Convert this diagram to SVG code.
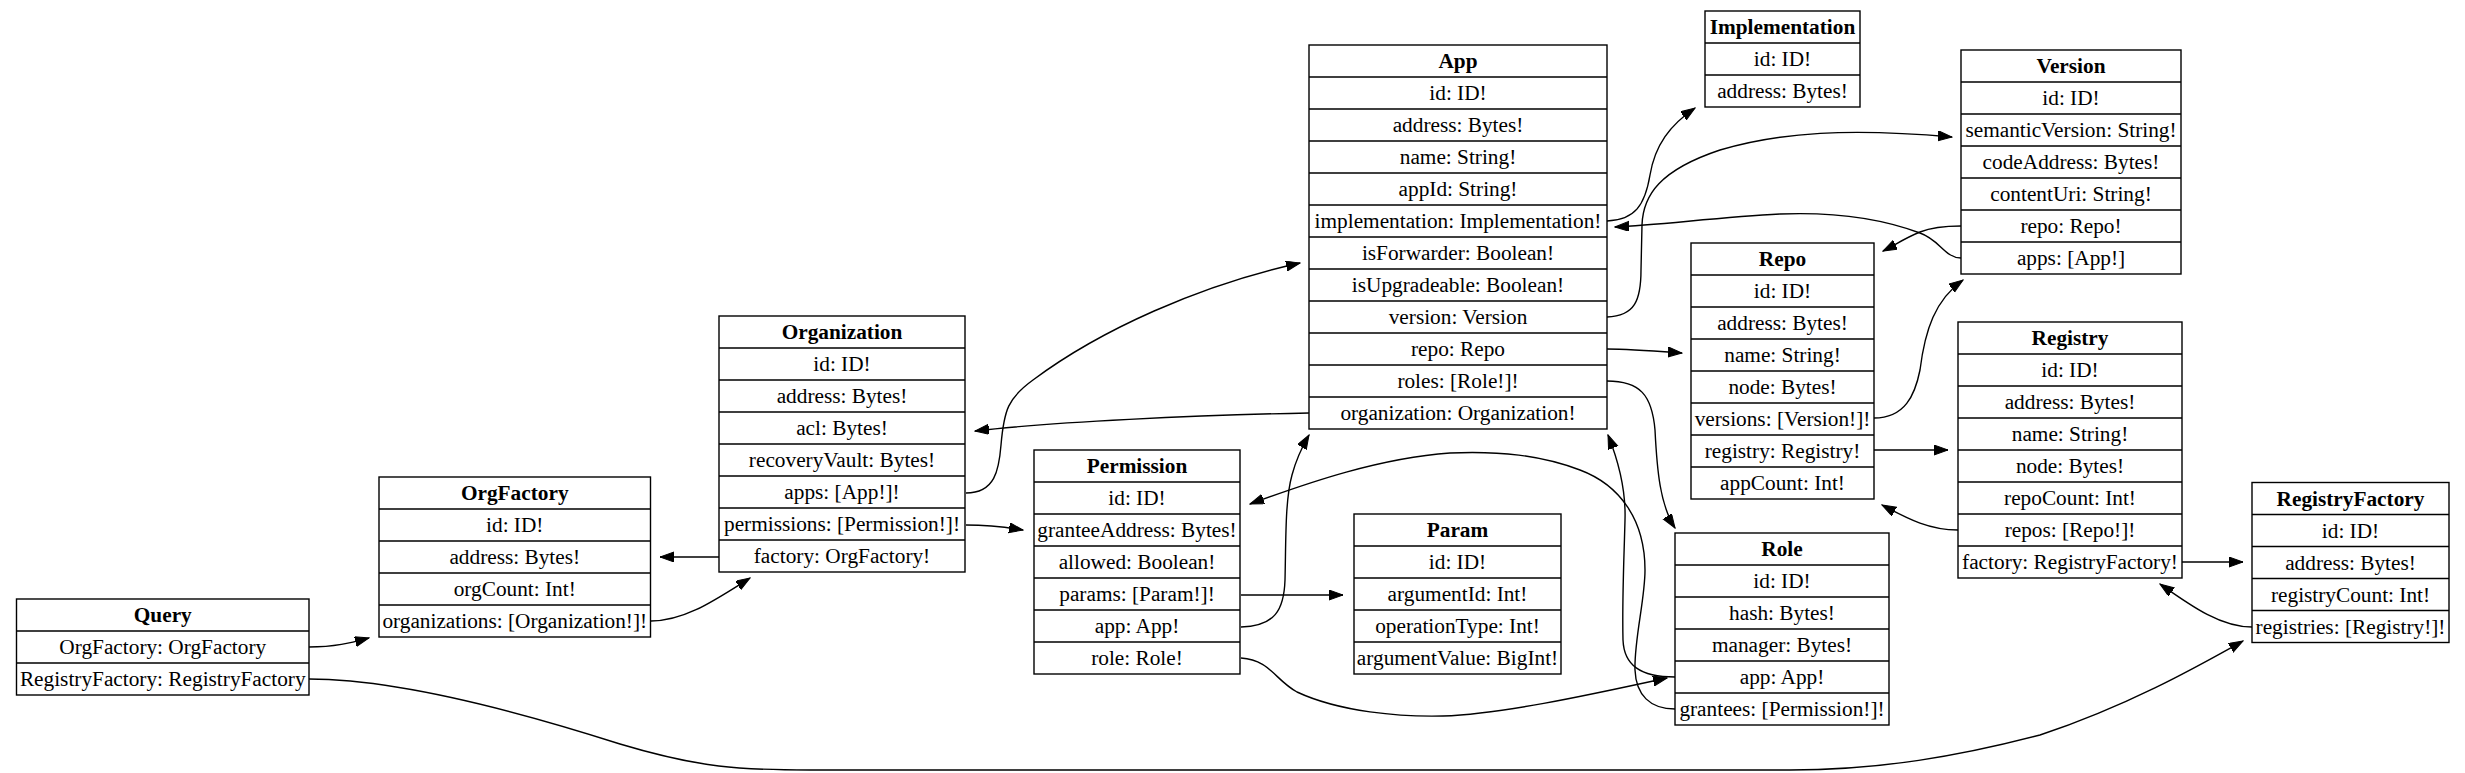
<svg xmlns="http://www.w3.org/2000/svg" width="2465" height="773" viewBox="0 0 2465 773">
<style>
.bg{fill:#fff}
.box{fill:none;stroke:#000;stroke-width:1.4}
.sep{stroke:#000;stroke-width:1.4}
text{font-family:"Liberation Serif","Times New Roman",serif;font-size:21.3px;text-anchor:middle;fill:#000}
.h{font-weight:bold}
.e{fill:none;stroke:#000;stroke-width:1.4;marker-end:url(#ah)}
</style>
<defs>
<marker id="ah" markerWidth="15" markerHeight="11" refX="14" refY="5" orient="auto" markerUnits="userSpaceOnUse"><path d="M0,0 L14,5 L0,10 z" fill="#000" stroke="#000" stroke-width="1"/></marker>
</defs>
<rect class="bg" x="0" y="0" width="2465" height="773"/>

<g id="Query">
<rect class="box" x="16.5" y="599" width="292.5" height="96"/>
<path class="sep" d="M16.5,631H309M16.5,663H309"/>
<text class="h" x="162.75" y="622">Query</text>
<text x="162.75" y="654">OrgFactory: OrgFactory</text>
<text x="162.75" y="686">RegistryFactory: RegistryFactory</text>
</g>

<g id="OrgFactory">
<rect class="box" x="379" y="477" width="271.5" height="160"/>
<path class="sep" d="M379,509H650.5M379,541H650.5M379,573H650.5M379,605H650.5"/>
<text class="h" x="514.75" y="500">OrgFactory</text>
<text x="514.75" y="532">id: ID!</text>
<text x="514.75" y="564">address: Bytes!</text>
<text x="514.75" y="596">orgCount: Int!</text>
<text x="514.75" y="628">organizations: [Organization!]!</text>
</g>

<g id="Organization">
<rect class="box" x="719" y="316" width="246" height="256"/>
<path class="sep" d="M719,348H965M719,380H965M719,412H965M719,444H965M719,476H965M719,508H965M719,540H965"/>
<text class="h" x="842" y="339">Organization</text>
<text x="842" y="371">id: ID!</text>
<text x="842" y="403">address: Bytes!</text>
<text x="842" y="435">acl: Bytes!</text>
<text x="842" y="467">recoveryVault: Bytes!</text>
<text x="842" y="499">apps: [App!]!</text>
<text x="842" y="531">permissions: [Permission!]!</text>
<text x="842" y="563">factory: OrgFactory!</text>
</g>

<g id="Permission">
<rect class="box" x="1034" y="450" width="206" height="224"/>
<path class="sep" d="M1034,482H1240M1034,514H1240M1034,546H1240M1034,578H1240M1034,610H1240M1034,642H1240"/>
<text class="h" x="1137" y="473">Permission</text>
<text x="1137" y="505">id: ID!</text>
<text x="1137" y="537">granteeAddress: Bytes!</text>
<text x="1137" y="569">allowed: Boolean!</text>
<text x="1137" y="601">params: [Param!]!</text>
<text x="1137" y="633">app: App!</text>
<text x="1137" y="665">role: Role!</text>
</g>

<g id="Param">
<rect class="box" x="1354" y="514" width="207" height="160"/>
<path class="sep" d="M1354,546H1561M1354,578H1561M1354,610H1561M1354,642H1561"/>
<text class="h" x="1457.5" y="537">Param</text>
<text x="1457.5" y="569">id: ID!</text>
<text x="1457.5" y="601">argumentId: Int!</text>
<text x="1457.5" y="633">operationType: Int!</text>
<text x="1457.5" y="665">argumentValue: BigInt!</text>
</g>

<g id="App">
<rect class="box" x="1309" y="45" width="298" height="384"/>
<path class="sep" d="M1309,77H1607M1309,109H1607M1309,141H1607M1309,173H1607M1309,205H1607M1309,237H1607M1309,269H1607M1309,301H1607M1309,333H1607M1309,365H1607M1309,397H1607"/>
<text class="h" x="1458" y="68">App</text>
<text x="1458" y="100">id: ID!</text>
<text x="1458" y="132">address: Bytes!</text>
<text x="1458" y="164">name: String!</text>
<text x="1458" y="196">appId: String!</text>
<text x="1458" y="228">implementation: Implementation!</text>
<text x="1458" y="260">isForwarder: Boolean!</text>
<text x="1458" y="292">isUpgradeable: Boolean!</text>
<text x="1458" y="324">version: Version</text>
<text x="1458" y="356">repo: Repo</text>
<text x="1458" y="388">roles: [Role!]!</text>
<text x="1458" y="420">organization: Organization!</text>
</g>

<g id="Implementation">
<rect class="box" x="1705" y="11" width="155" height="96"/>
<path class="sep" d="M1705,43H1860M1705,75H1860"/>
<text class="h" x="1782.5" y="34">Implementation</text>
<text x="1782.5" y="66">id: ID!</text>
<text x="1782.5" y="98">address: Bytes!</text>
</g>

<g id="Repo">
<rect class="box" x="1691" y="243" width="183" height="256"/>
<path class="sep" d="M1691,275H1874M1691,307H1874M1691,339H1874M1691,371H1874M1691,403H1874M1691,435H1874M1691,467H1874"/>
<text class="h" x="1782.5" y="266">Repo</text>
<text x="1782.5" y="298">id: ID!</text>
<text x="1782.5" y="330">address: Bytes!</text>
<text x="1782.5" y="362">name: String!</text>
<text x="1782.5" y="394">node: Bytes!</text>
<text x="1782.5" y="426">versions: [Version!]!</text>
<text x="1782.5" y="458">registry: Registry!</text>
<text x="1782.5" y="490">appCount: Int!</text>
</g>

<g id="Role">
<rect class="box" x="1675" y="533" width="214" height="192"/>
<path class="sep" d="M1675,565H1889M1675,597H1889M1675,629H1889M1675,661H1889M1675,693H1889"/>
<text class="h" x="1782" y="556">Role</text>
<text x="1782" y="588">id: ID!</text>
<text x="1782" y="620">hash: Bytes!</text>
<text x="1782" y="652">manager: Bytes!</text>
<text x="1782" y="684">app: App!</text>
<text x="1782" y="716">grantees: [Permission!]!</text>
</g>

<g id="Version">
<rect class="box" x="1961" y="50" width="220" height="224"/>
<path class="sep" d="M1961,82H2181M1961,114H2181M1961,146H2181M1961,178H2181M1961,210H2181M1961,242H2181"/>
<text class="h" x="2071" y="73">Version</text>
<text x="2071" y="105">id: ID!</text>
<text x="2071" y="137">semanticVersion: String!</text>
<text x="2071" y="169">codeAddress: Bytes!</text>
<text x="2071" y="201">contentUri: String!</text>
<text x="2071" y="233">repo: Repo!</text>
<text x="2071" y="265">apps: [App!]</text>
</g>

<g id="Registry">
<rect class="box" x="1958" y="322" width="224" height="256"/>
<path class="sep" d="M1958,354H2182M1958,386H2182M1958,418H2182M1958,450H2182M1958,482H2182M1958,514H2182M1958,546H2182"/>
<text class="h" x="2070" y="345">Registry</text>
<text x="2070" y="377">id: ID!</text>
<text x="2070" y="409">address: Bytes!</text>
<text x="2070" y="441">name: String!</text>
<text x="2070" y="473">node: Bytes!</text>
<text x="2070" y="505">repoCount: Int!</text>
<text x="2070" y="537">repos: [Repo!]!</text>
<text x="2070" y="569">factory: RegistryFactory!</text>
</g>

<g id="RegistryFactory">
<rect class="box" x="2252" y="482.5" width="197" height="160"/>
<path class="sep" d="M2252,514.5H2449M2252,546.5H2449M2252,578.5H2449M2252,610.5H2449"/>
<text class="h" x="2350.5" y="505.5">RegistryFactory</text>
<text x="2350.5" y="537.5">id: ID!</text>
<text x="2350.5" y="569.5">address: Bytes!</text>
<text x="2350.5" y="601.5">registryCount: Int!</text>
<text x="2350.5" y="633.5">registries: [Registry!]!</text>
</g>

<g id="edges">
<path class="e" d="M309,647 C335,647 350,643 369,638"/>
<path class="e" d="M309,679 C400,679 520,712 620,744 C700,768 740,770 810,770 L1790,770 C1880,770 1960,756 2040,735 C2130,705 2200,665 2243,641"/>
<path class="e" d="M651,621 C685,621 715,600 750,578"/>
<path class="e" d="M719,557 L660,557"/>
<path class="e" d="M966,493 C995,493 999,470 1001,445 C1004,410 1008,398 1033,380 C1100,330 1200,285 1300,263"/>
<path class="e" d="M966,525 C990,525 1005,527 1023,530"/>
<path class="e" d="M1309,413 C1200,415 1050,422 975,431"/>
<path class="e" d="M1241,627 C1275,626 1284,610 1285,580 C1286,540 1285,500 1292,475 C1296,460 1302,447 1309,435"/>
<path class="e" d="M1241,595 L1343,595"/>
<path class="e" d="M1241,658 C1270,660 1275,680 1297,692 C1340,712 1400,717 1443,716 C1500,714 1580,697 1667,678"/>
<path class="e" d="M1675,709 C1650,709 1636,695 1635,670 C1634,640 1645,600 1645,570 C1645,520 1620,485 1580,470 C1540,455 1500,451 1450,453 C1380,458 1310,482 1250,504"/>
<path class="e" d="M1675,677 C1640,677 1624,665 1623,640 C1622,600 1624,560 1625,520 C1626,490 1618,460 1608,435"/>
<path class="e" d="M1607,221 C1635,220 1645,205 1650,175 C1655,145 1670,125 1695,108"/>
<path class="e" d="M1961,258 C1945,258 1940,240 1920,233 C1880,218 1830,212 1780,214 C1720,217 1660,225 1615,227"/>
<path class="e" d="M1961,226 C1945,226 1930,228 1920,232 C1905,238 1895,245 1883,251"/>
<path class="e" d="M1607,317 C1635,316 1641,300 1641,270 L1642,225 C1643,195 1660,170 1720,150 C1780,132 1850,128 1952,137"/>
<path class="e" d="M1607,349 C1630,349 1655,351 1682,353"/>
<path class="e" d="M1607,381 C1640,381 1652,395 1655,430 C1657,470 1660,505 1675,528"/>
<path class="e" d="M1874,418 C1905,418 1915,395 1920,370 C1925,330 1935,300 1963,280"/>
<path class="e" d="M1874,450 L1948,450"/>
<path class="e" d="M1958,530 C1930,530 1910,520 1882,505"/>
<path class="e" d="M2182,562 L2243,562"/>
<path class="e" d="M2252,627 C2220,627 2190,605 2160,584"/>
</g>
</svg>
